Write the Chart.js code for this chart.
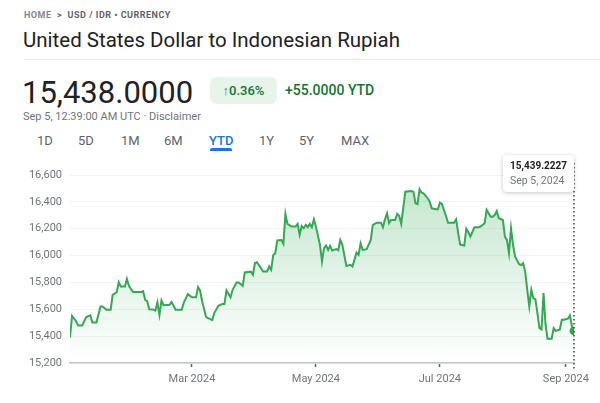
<!DOCTYPE html>
<html lang="en">

<head>
    <meta charset="UTF-8">
    <meta name="viewport" content="width=device-width, initial-scale=1.0">
    <script src="https://cdn.jsdelivr.net/npm/chart.js"></script>
    <title>USD / IDR</title>
    <style>
        body { margin: 0; width: 600px; height: 403px; background: #fff; font-family: Roboto, Arial, sans-serif; position: relative; overflow: hidden; }
        .abs { position: absolute; white-space: nowrap; }
        .crumb { left: 24px; top: 10px; font-size: 9px; font-weight: 700; letter-spacing: 0.5px; color: #5f6368; }
        .crumb .home { color: #80868b; }
        .title { left: 23px; top: 28px; font-size: 20.5px; color: #202124; }
        .divider { left: 24px; top: 59px; width: 576px; height: 1px; background: #e8eaed; }
        .price { left: 22px; top: 74px; font-size: 31px; color: #202124; }
        .badge { left: 210px; top: 77px; width: 67px; height: 27px; border-radius: 7px; background: #e6f4ea; color: #137333; font-size: 13px; font-weight: 500; line-height: 27px; text-align: center; }
        .ytd { left: 285px; top: 82px; font-size: 14px; font-weight: 500; color: #137333; }
        .sub { left: 23px; top: 110px; font-size: 11px; color: #70757a; }
        .tab { top: 133px; font-size: 13px; color: #5f6368; }
        .tab.on { color: #1a73e8; font-weight: 500; }
        .under { left: 210px; top: 148px; width: 22px; height: 3px; border-radius: 2px 2px 0 0; background: #1a73e8; }
        #wrap { position: absolute; left: 0; top: 150px; width: 600px; height: 253px; }
    </style>
    <script>
        // USD/IDR, YTD 2024 — x = days since Jan 1, 2024
        var days = [0, 1, 3, 4, 6, 8, 10, 11, 13, 15, 16, 18, 20, 21, 23, 24, 25, 27, 28, 29,
            31, 35, 36, 37, 38, 39, 41, 42, 43, 44, 45, 46, 49, 50, 52, 55, 56, 58, 60, 62,
            63, 64, 65, 67, 70, 71, 73, 75, 76, 77, 79, 80, 82, 83, 85, 86, 89, 90, 91, 92,
            94, 95, 97, 98, 99, 100, 101, 102, 104, 105, 106, 107, 109, 111, 112, 113, 114, 115, 116, 117,
            118, 119, 120, 121, 123, 124, 125, 126, 127, 128, 129, 131, 132, 133, 134, 136, 138, 139, 141, 142,
            143, 144, 146, 148, 149, 151, 153, 154, 155, 156, 157, 158, 160, 161, 162, 163, 165, 168, 169, 170,
            171, 172, 173, 174, 176, 177, 178, 180, 181, 182, 183, 184, 185, 186, 189, 190, 191, 192, 194, 195,
            196, 197, 199, 201, 202, 204, 205, 207, 208, 209, 210, 211, 213, 214, 215, 216, 217, 218, 219, 221,
            222, 223, 224, 225, 226, 227, 228, 229, 230, 231, 232, 233, 234, 235, 237, 238, 239, 241, 242, 243,
            245, 246, 247, 248];
        var rates = [15390, 15550, 15510, 15480, 15480, 15542, 15555, 15502, 15502, 15621, 15621, 15596, 15596, 15708, 15727, 15802, 15770, 15770, 15826, 15775,
            15728, 15728, 15735, 15670, 15660, 15600, 15598, 15590, 15651, 15559, 15666, 15630, 15633, 15655, 15596, 15596, 15650, 15713, 15690, 15690,
            15765, 15740, 15660, 15542, 15520, 15572, 15626, 15640, 15640, 15740, 15690, 15745, 15800, 15800, 15775, 15874, 15880, 15857, 15944, 15950,
            15906, 15881, 15881, 15920, 15894, 16005, 16018, 16112, 16115, 16087, 16310, 16236, 16216, 16216, 16236, 16154, 16220, 16204, 16228, 16211,
            16236, 16211, 16270, 16216, 16080, 15956, 16055, 16075, 16042, 16072, 16037, 16048, 16040, 16117, 16080, 15923, 15931, 15918, 16022, 16005,
            16092, 16042, 16048, 16117, 16228, 16245, 16245, 16211, 16270, 16315, 16241, 16265, 16265, 16310, 16295, 16236, 16476, 16481, 16476, 16390,
            16384, 16494, 16468, 16464, 16427, 16402, 16352, 16345, 16345, 16394, 16384, 16340, 16295, 16245, 16245, 16270, 16167, 16082, 16075, 16200,
            16174, 16141, 16211, 16211, 16216, 16241, 16340, 16290, 16290, 16302, 16332, 16278, 16265, 16141, 16117, 16018, 16204, 16080, 15993, 15936,
            15930, 15944, 15877, 15745, 15621, 15745, 15683, 15675, 15572, 15460, 15450, 15720, 15485, 15381, 15381, 15460, 15440, 15448, 15522, 15522,
            15530, 15554, 15472, 15439.2227];
        var xTickDays = [60, 121, 182, 244];
        var xTickLabels = ['Mar 2024', 'May 2024', 'Jul 2024', 'Sep 2024'];
        var yMin = 15200, yMax = 16600, yStep = 200;

        function dateLabel(d) {
            var dt = new Date(Date.UTC(2024, 0, 1) + d * 86400000);
            return dt.toLocaleDateString('en-US', { month: 'short', day: 'numeric', year: 'numeric', timeZone: 'UTC' });
        }

        var hoverMark = {
            id: 'hoverMark',
            afterDatasetsDraw: function (chart) {
                var ctx = chart.ctx;
                var meta = chart.getDatasetMeta(0);
                var last = meta.data[meta.data.length - 1];
                var area = chart.chartArea;
                ctx.save();
                // dotted guide
                ctx.strokeStyle = '#3c4043';
                ctx.lineWidth = 1.5;
                ctx.setLineDash([1.5, 2.5]);
                ctx.beginPath();
                ctx.moveTo(last.x, area.top - 12);
                ctx.lineTo(last.x, area.bottom + 8);
                ctx.stroke();
                ctx.setLineDash([]);
                // box
                var w = 71, h = 37, bx = last.x - w, by = area.top - 20;
                ctx.shadowColor = 'rgba(60,64,67,0.3)';
                ctx.shadowBlur = 4;
                ctx.shadowOffsetY = 1;
                ctx.fillStyle = '#fff';
                ctx.beginPath();
                ctx.roundRect(bx, by, w, h, 4);
                ctx.fill();
                ctx.shadowColor = 'transparent';
                ctx.fillStyle = '#202124';
                ctx.font = 'bold 10px Roboto';
                ctx.textBaseline = 'middle';
                ctx.fillText(rates[rates.length - 1].toLocaleString('en-US', { minimumFractionDigits: 4 }), bx + 7, by + 11);
                ctx.fillStyle = '#70757a';
                ctx.font = '10.5px Roboto';
                ctx.fillText(dateLabel(days[days.length - 1]), bx + 7, by + 26);
                ctx.restore();
            }
        };

        window.onload = function () {
            var pts = [];
            for (var i = 0; i < days.length; i++) pts.push({ x: days[i], y: rates[i] });
            var ctx = document.getElementById('myChart').getContext('2d');
            new Chart(ctx, {
                type: 'line',
                data: {
                    datasets: [{
                        data: pts,
                        borderColor: '#34a853',
                        borderWidth: 2,
                        tension: 0,
                        fill: 'start',
                        backgroundColor: function (c) {
                            var a = c.chart.chartArea;
                            if (!a) return 'rgba(52,168,83,0.1)';
                            var g = c.chart.ctx.createLinearGradient(0, a.top, 0, a.bottom);
                            g.addColorStop(0, 'rgba(52,168,83,0.30)');
                            g.addColorStop(1, 'rgba(52,168,83,0.0)');
                            return g;
                        },
                        pointRadius: function (c) { return c.dataIndex === days.length - 1 ? 4.5 : 0; },
                        pointBackgroundColor: '#34a853',
                        pointBorderWidth: 0
                    }]
                },
                options: {
                    responsive: false,
                    animation: false,
                    layout: { padding: { top: 25, right: 26, left: 0, bottom: 0 } },
                    plugins: { legend: { display: false }, tooltip: { enabled: false } },
                    scales: {
                        x: {
                            type: 'linear',
                            min: 0,
                            max: days[days.length - 1],
                            afterFit: function (s) { s.height = 40; },
                            afterBuildTicks: function (s) { s.ticks = xTickDays.map(function (v) { return { value: v }; }); },
                            ticks: {
                                autoSkip: false,
                                maxRotation: 0,
                                padding: 6,
                                color: '#70757a',
                                font: { family: 'Roboto', size: 11 },
                                callback: function (v) { return xTickLabels[xTickDays.indexOf(v)]; }
                            },
                            grid: { drawOnChartArea: false, drawTicks: true, tickLength: 4, tickColor: '#5f6368', tickWidth: 1.5 },
                            border: { color: '#c4c7c5', width: 1.5 }
                        },
                        y: {
                            min: yMin,
                            max: yMax,
                            afterFit: function (s) { s.width = 70; },
                            ticks: {
                                stepSize: yStep,
                                padding: 8,
                                color: '#70757a',
                                font: { family: 'Roboto', size: 11 },
                                callback: function (v) { return v.toLocaleString('en-US'); }
                            },
                            grid: { color: '#f1f3f4', drawTicks: false },
                            border: { display: false }
                        }
                    }
                },
                plugins: [hoverMark]
            });
        };
    </script>
</head>

<body>
    <div class="abs crumb"><span class="home">HOME</span> &nbsp;&gt;&nbsp; USD / IDR • CURRENCY</div>
    <div class="abs title">United States Dollar to Indonesian Rupiah</div>
    <div class="abs divider"></div>
    <div class="abs price">15,438.0000</div>
    <div class="abs badge">↑0.36%</div>
    <div class="abs ytd">+55.0000 YTD</div>
    <div class="abs sub">Sep 5, 12:39:00 AM UTC · Disclaimer</div>
    <div class="abs tab" style="left:37px">1D</div>
    <div class="abs tab" style="left:78px">5D</div>
    <div class="abs tab" style="left:121px">1M</div>
    <div class="abs tab" style="left:164px">6M</div>
    <div class="abs tab on" style="left:209px">YTD</div>
    <div class="abs tab" style="left:259px">1Y</div>
    <div class="abs tab" style="left:299px">5Y</div>
    <div class="abs tab" style="left:341px">MAX</div>
    <div class="abs under"></div>
    <div id="wrap"><canvas id="myChart" width="600" height="253"></canvas></div>
</body>

</html>
